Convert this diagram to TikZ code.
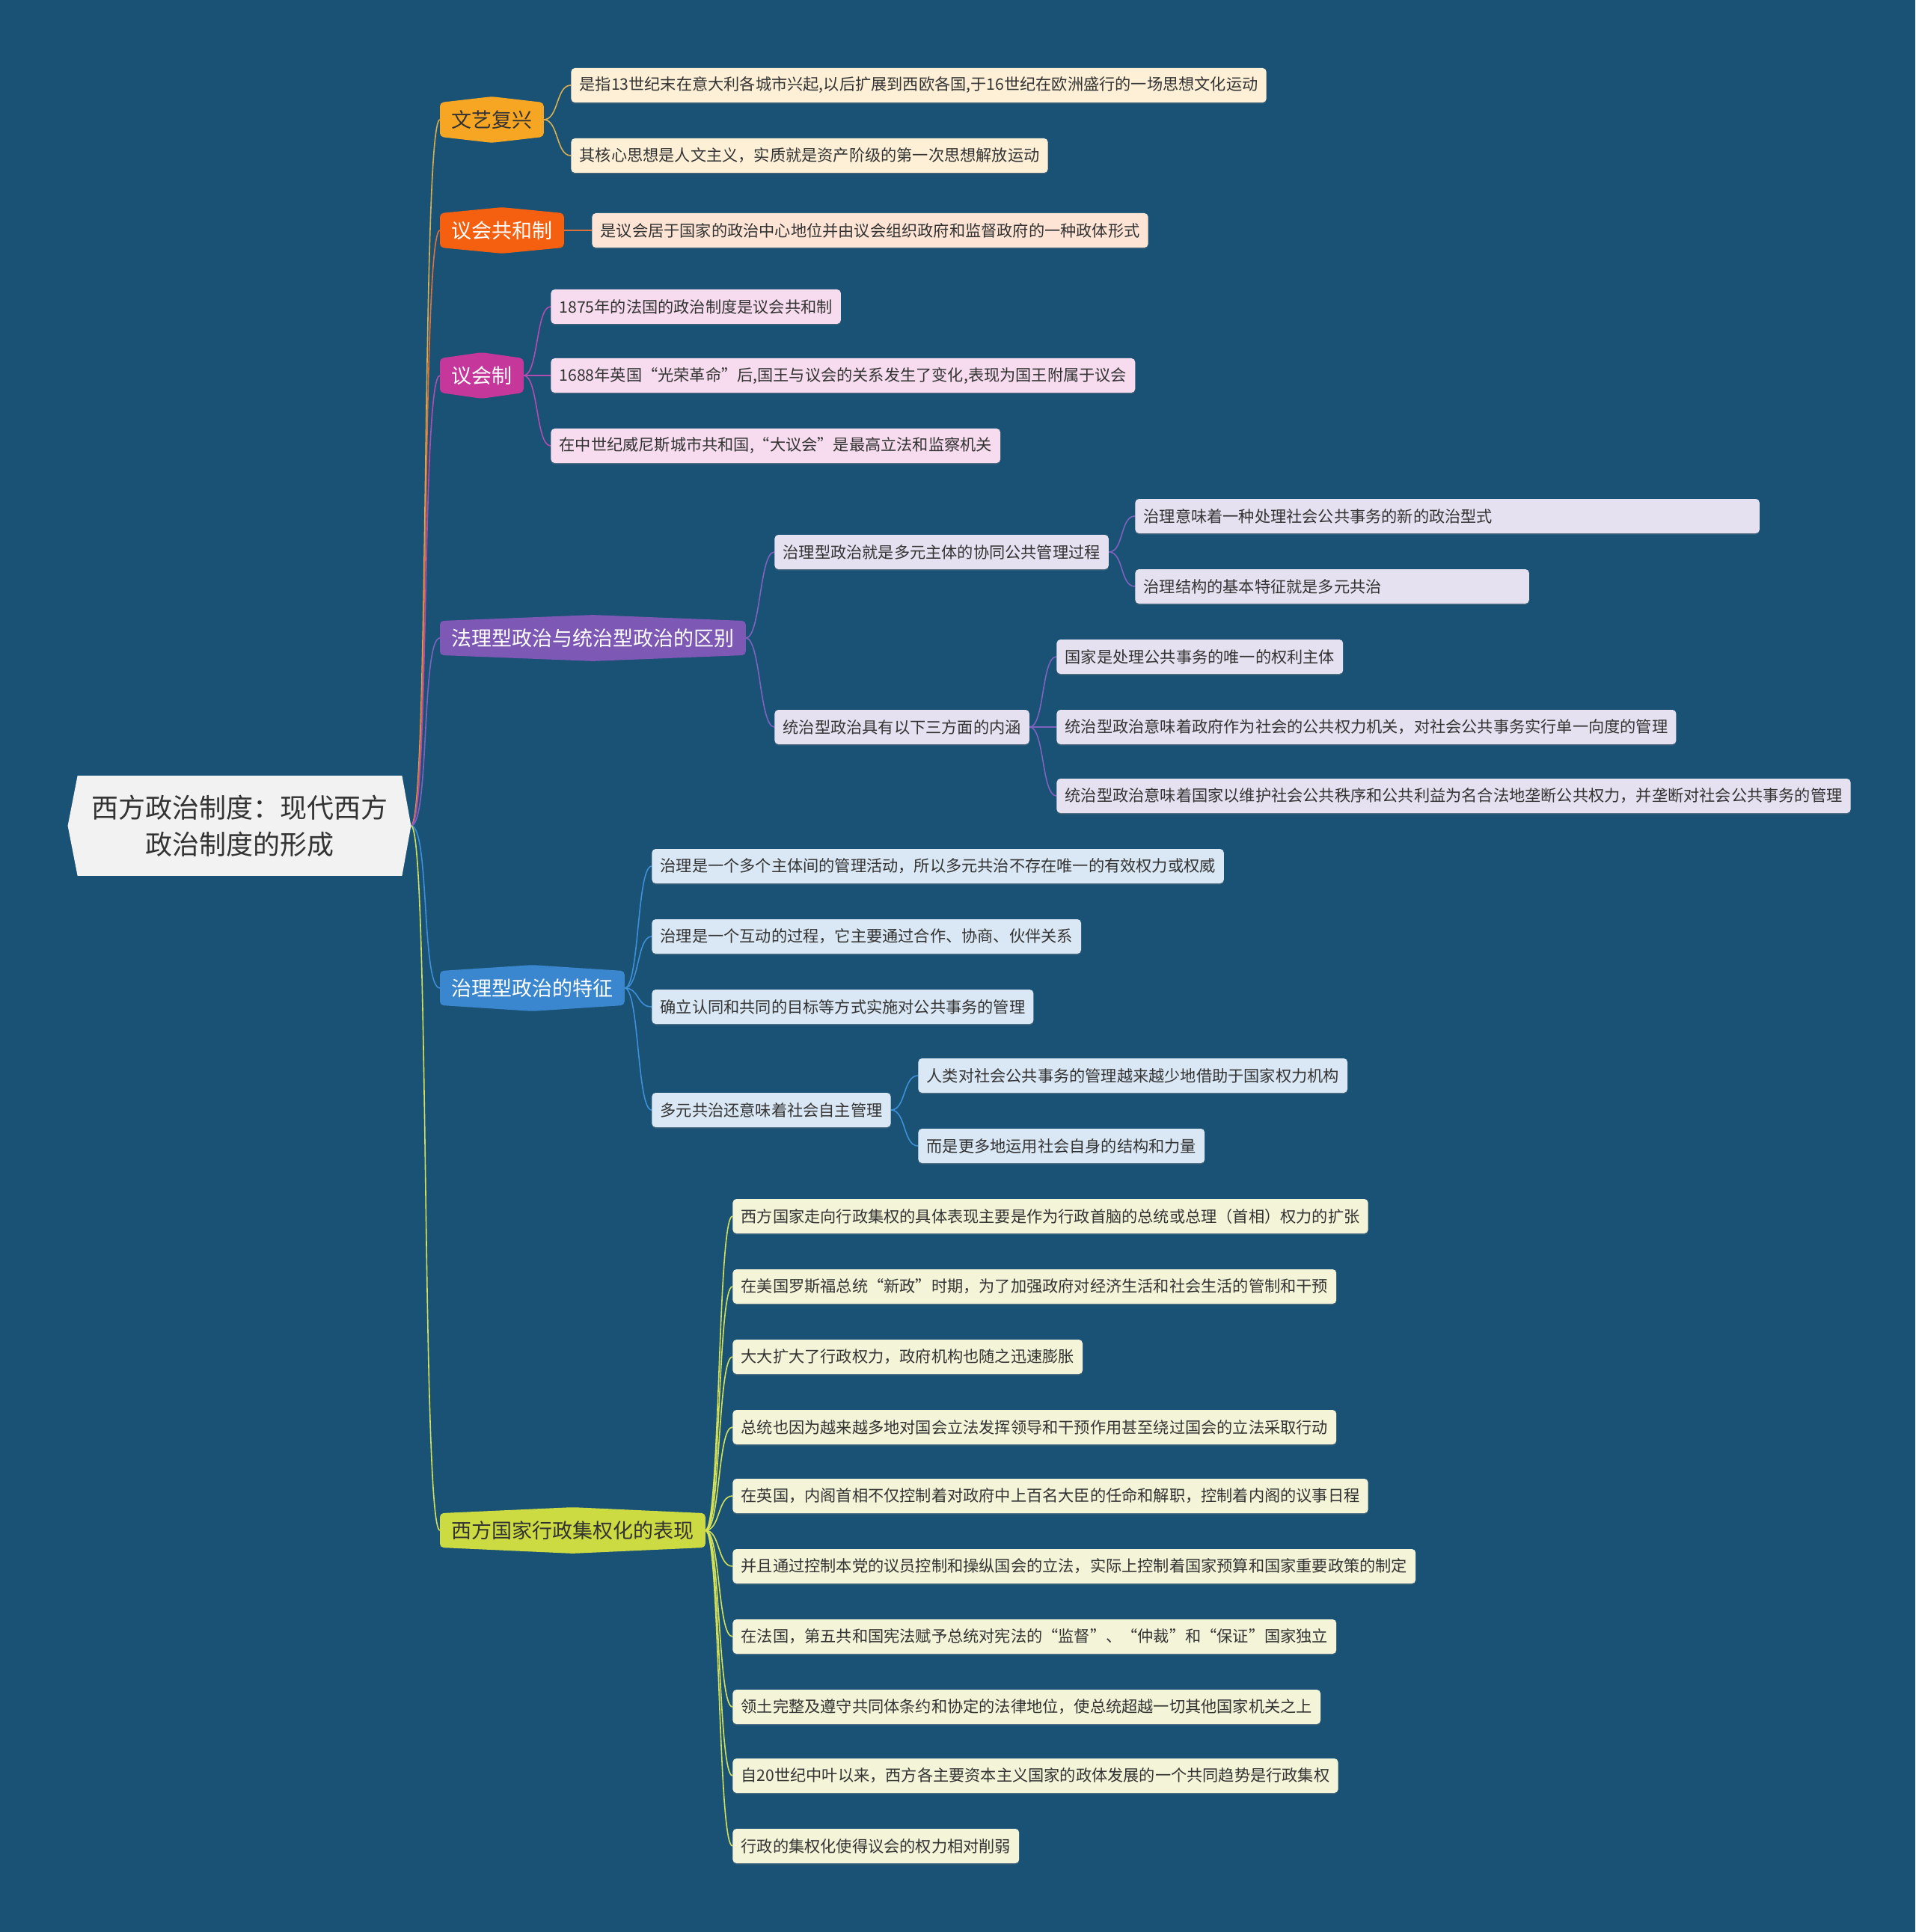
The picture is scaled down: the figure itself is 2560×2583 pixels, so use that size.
\documentclass[tikz,border=0pt]{standalone}
\usepackage{fontspec}
\setmainfont{Noto Sans CJK SC}
\usepackage{tikz}
\usetikzlibrary{positioning, calc, backgrounds, shadows}
\definecolor{mapbg}{HTML}{1A5276}
\definecolor{rootfill}{HTML}{F2F2F2}
\definecolor{inkdark}{HTML}{333333}
\definecolor{wyfill}{HTML}{F6A623}
\definecolor{wyline}{HTML}{D9AE4E}
\definecolor{wyleaf}{HTML}{FDF0D6}
\definecolor{ghfill}{HTML}{F45F10}
\definecolor{ghline}{HTML}{E2703A}
\definecolor{ghleaf}{HTML}{FDE4D4}
\definecolor{yhfill}{HTML}{C6379C}
\definecolor{yhline}{HTML}{B24CB0}
\definecolor{yhleaf}{HTML}{F6DCEE}
\definecolor{flfill}{HTML}{7D58B4}
\definecolor{flline}{HTML}{7E62BE}
\definecolor{flleaf}{HTML}{E6E1F0}
\definecolor{zlfill}{HTML}{3A87CF}
\definecolor{zlline}{HTML}{3F8FD6}
\definecolor{zlleaf}{HTML}{DAE8F5}
\definecolor{xffill}{HTML}{CDDB43}
\definecolor{xfline}{HTML}{D4E157}
\definecolor{xfleaf}{HTML}{F4F5D8}

\begin{document}
\begin{tikzpicture}[x=0.5pt, y=-0.5pt,
 font=\fontsize{10.6}{12.7}\selectfont,
 rootbox/.style={align=center, text=inkdark, minimum width=216.5pt, minimum height=66.5pt, inner sep=0pt, font=\fontsize{18}{24.5}\selectfont},
 topic/.style={anchor=west, minimum height=22.5pt, inner xsep=7.5pt, inner ysep=0pt, font=\fontsize{13.5}{16}\selectfont},
 leaf/.style={anchor=west, rounded corners=2.5pt, minimum height=23pt, inner xsep=5.6pt, inner ysep=0pt, text=inkdark, drop shadow={shadow xshift=0pt, shadow yshift=-0.8pt, opacity=0.35}},
 link/.style={line width=0.8pt}]
\useasboundingbox (0,0) rectangle (2560,2583);

\node[rootbox](root) at (320.5,1104){西方政治制度：现代西方\\政治制度的形成};
\coordinate (rtip) at ([xshift=6pt]root.east);

\node[topic, text=inkdark](wy) at (588,160){文艺复兴};
\node[topic, text=white](gh) at (588,308){议会共和制};
\node[topic, text=white](yh) at (588,502){议会制};
\node[topic, text=white](fl) at (588,853){法理型政治与统治型政治的区别};
\node[topic, text=white](zl) at (588,1321){治理型政治的特征};
\node[topic, text=inkdark](xf) at (588,2046){西方国家行政集权化的表现};

\node[leaf, fill=wyleaf](w1) at (763,114){是指13世纪末在意大利各城市兴起,以后扩展到西欧各国,于16世纪在欧洲盛行的一场思想文化运动};
\node[leaf, fill=wyleaf](w2) at (763,208){其核心思想是人文主义，实质就是资产阶级的第一次思想解放运动};

\node[leaf, fill=ghleaf](g1) at (791,308){是议会居于国家的政治中心地位并由议会组织政府和监督政府的一种政体形式};

\node[leaf, fill=yhleaf](y1) at (736,410){1875年的法国的政治制度是议会共和制};
\node[leaf, fill=yhleaf](y2) at (736,502){1688年英国“光荣革命”后,国王与议会的关系发生了变化,表现为国王附属于议会};
\node[leaf, fill=yhleaf](y3) at (736,596){在中世纪威尼斯城市共和国,“大议会”是最高立法和监察机关};

\node[leaf, fill=flleaf](f1) at (1035,738){治理型政治就是多元主体的协同公共管理过程};
\node[leaf, fill=flleaf, text width=406pt, align=left](f11) at (1517,690){治理意味着一种处理社会公共事务的新的政治型式};
\node[leaf, fill=flleaf, text width=252pt, align=left](f12) at (1517,784){治理结构的基本特征就是多元共治};
\node[leaf, fill=flleaf](f2) at (1035,972){统治型政治具有以下三方面的内涵};
\node[leaf, fill=flleaf](f21) at (1412,878){国家是处理公共事务的唯一的权利主体};
\node[leaf, fill=flleaf](f22) at (1412,972){统治型政治意味着政府作为社会的公共权力机关，对社会公共事务实行单一向度的管理};
\node[leaf, fill=flleaf](f23) at (1412,1064){统治型政治意味着国家以维护社会公共秩序和公共利益为名合法地垄断公共权力，并垄断对社会公共事务的管理};

\node[leaf, fill=zlleaf](t1) at (871,1158){治理是一个多个主体间的管理活动，所以多元共治不存在唯一的有效权力或权威};
\node[leaf, fill=zlleaf](t2) at (871,1252){治理是一个互动的过程，它主要通过合作、协商、伙伴关系};
\node[leaf, fill=zlleaf](t3) at (871,1346){确立认同和共同的目标等方式实施对公共事务的管理};
\node[leaf, fill=zlleaf](t4) at (871,1484){多元共治还意味着社会自主管理};
\node[leaf, fill=zlleaf](t41) at (1227,1438){人类对社会公共事务的管理越来越少地借助于国家权力机构};
\node[leaf, fill=zlleaf](t42) at (1227,1532){而是更多地运用社会自身的结构和力量};

\node[leaf, fill=xfleaf](x1) at (979,1626){西方国家走向行政集权的具体表现主要是作为行政首脑的总统或总理（首相）权力的扩张};
\node[leaf, fill=xfleaf](x2) at (979,1720){在美国罗斯福总统“新政”时期，为了加强政府对经济生活和社会生活的管制和干预};
\node[leaf, fill=xfleaf](x3) at (979,1814){大大扩大了行政权力，政府机构也随之迅速膨胀};
\node[leaf, fill=xfleaf](x4) at (979,1908){总统也因为越来越多地对国会立法发挥领导和干预作用甚至绕过国会的立法采取行动};
\node[leaf, fill=xfleaf](x5) at (979,2000){在英国，内阁首相不仅控制着对政府中上百名大臣的任命和解职，控制着内阁的议事日程};
\node[leaf, fill=xfleaf](x6) at (979,2094){并且通过控制本党的议员控制和操纵国会的立法，实际上控制着国家预算和国家重要政策的制定};
\node[leaf, fill=xfleaf](x7) at (979,2188){在法国，第五共和国宪法赋予总统对宪法的“监督”、“仲裁”和“保证”国家独立};
\node[leaf, fill=xfleaf](x8) at (979,2282){领土完整及遵守共同体条约和协定的法律地位，使总统超越一切其他国家机关之上};
\node[leaf, fill=xfleaf](x9) at (979,2374){自20世纪中叶以来，西方各主要资本主义国家的政体发展的一个共同趋势是行政集权};
\node[leaf, fill=xfleaf](x10) at (979,2468){行政的集权化使得议会的权力相对削弱};

\begin{scope}[on background layer]
\fill[mapbg] (0,0) rectangle (2560,2583);
\draw[link, wyline] (rtip) .. controls +(25,0) and +(-25,0) .. (wy.west);
\draw[link, ghline] (rtip) .. controls +(25,0) and +(-25,0) .. (gh.west);
\draw[link, yhline] (rtip) .. controls +(25,0) and +(-25,0) .. (yh.west);
\draw[link, flline] (rtip) .. controls +(25,0) and +(-25,0) .. (fl.west);
\draw[link, zlline] (rtip) .. controls +(25,0) and +(-25,0) .. (zl.west);
\draw[link, xfline] (rtip) .. controls +(25,0) and +(-25,0) .. (xf.west);
\foreach \a/\b/\c in {wy/w1/wyline, wy/w2/wyline, gh/g1/ghline, yh/y1/yhline, yh/y2/yhline, yh/y3/yhline,
  fl/f1/flline, fl/f2/flline, f1/f11/flline, f1/f12/flline, f2/f21/flline, f2/f22/flline, f2/f23/flline,
  zl/t1/zlline, zl/t2/zlline, zl/t3/zlline, zl/t4/zlline, t4/t41/zlline, t4/t42/zlline,
  xf/x1/xfline, xf/x2/xfline, xf/x3/xfline, xf/x4/xfline, xf/x5/xfline, xf/x6/xfline, xf/x7/xfline, xf/x8/xfline, xf/x9/xfline, xf/x10/xfline}
  \draw[link, \c] (\a.east) .. controls +(20,0) and +(-20,0) .. (\b.west);
\fill[rootfill] (root.north west) -- (root.north east) -- (rtip) -- (root.south east) -- (root.south west) -- ([xshift=-6.5pt]root.west) -- cycle;
\foreach \n/\c in {wy/wyfill, gh/ghfill, yh/yhfill, fl/flfill, zl/zlfill, xf/xffill}
  \fill[\c, rounded corners=2.5pt] (\n.west) -- (\n.north west) -- ([yshift=4pt]\n.north) -- (\n.north east) -- (\n.south east) -- ([yshift=-4pt]\n.south) -- (\n.south west) -- cycle;
\end{scope}
\end{tikzpicture}
\end{document}
